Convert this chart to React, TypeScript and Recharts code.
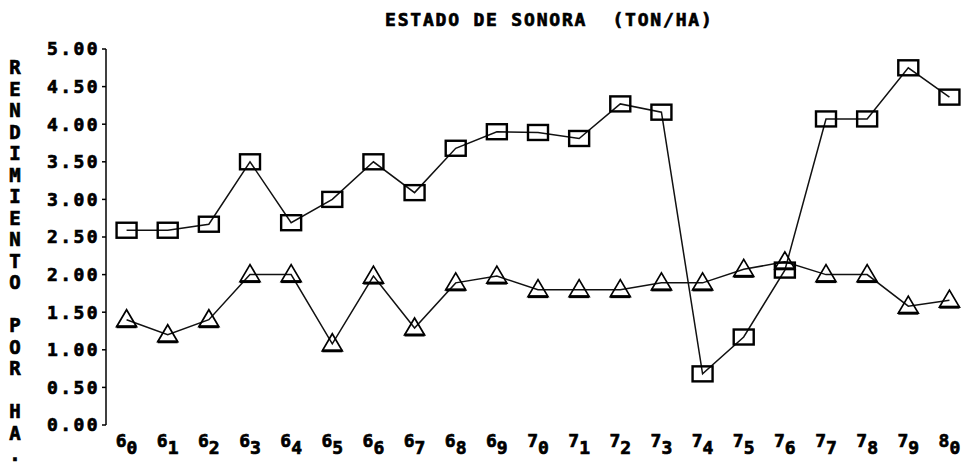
import { LineChart, Line, XAxis, YAxis } from 'recharts';

// años 1960-1980, etiqueta = decena + dígito en subíndice
const years = ['60', '61', '62', '63', '64', '65', '66', '67', '68', '69', '70', '71', '72', '73', '74', '75', '76', '77', '78', '79', '80'];

// serie con cuadros
const serieCuadros = [2.59, 2.59, 2.67, 3.5, 2.69, 3.0, 3.5, 3.09, 3.68, 3.9, 3.89, 3.81, 4.27, 4.16, 0.68, 1.17, 2.06, 4.07, 4.07, 4.75, 4.36];

// serie con triángulos
const serieTriangulos = [1.4, 1.2, 1.4, 2.0, 2.0, 1.08, 1.98, 1.29, 1.89, 1.98, 1.8, 1.8, 1.8, 1.89, 1.89, 2.07, 2.17, 2.0, 2.0, 1.58, 1.66];

const yTicks = [0, 0.5, 1, 1.5, 2, 2.5, 3, 3.5, 4, 4.5, 5];

const yLabel = 'RENDIMIENTO POR HA.';

const data = years.map((y, i) => ({ i, year: y, a: serieCuadros[i], b: serieTriangulos[i] }));
const centerTicks = years.map((_, i) => i);
const boundaryTicks = [...years.map((_, i) => i - 0.5), years.length - 0.5];

const FONT = '"DejaVu Sans Mono", monospace';

const SquareDot = (props: any) => {
  const { cx, cy } = props;
  if (cx == null || cy == null) return null;
  return <rect x={cx - 10} y={cy - 7.5} width={20} height={15} fill="none" stroke="#000" strokeWidth={2.4} />;
};

const TriangleDot = (props: any) => {
  const { cx, cy } = props;
  if (cx == null || cy == null) return null;
  return (
    <g>
      <polygon points={`${cx},${cy - 10} ${cx - 10},${cy + 7} ${cx + 10},${cy + 7}`} fill="none" stroke="#000" strokeWidth={1.7} />
      <line x1={cx - 10} y1={cy + 7} x2={cx + 10} y2={cy + 7} stroke="#000" strokeWidth={3} />
    </g>
  );
};

const YearTick = (props: any) => {
  const { x, y, payload } = props;
  const label = years[payload.value] || '';
  return (
    <text x={x} y={y + 22} textAnchor="middle" fontFamily={FONT} fontWeight="bold" fontSize={18} fill="#000" stroke="#000" strokeWidth={0.7}>
      <tspan>{label[0]}</tspan>
      <tspan dy={7}>{label[1]}</tspan>
    </text>
  );
};

const htmlText = {
  fontFamily: FONT,
  fontWeight: 'bold' as const,
  fontSize: 18,
  color: '#000',
  WebkitTextStroke: '0.7px #000',
};

export default function App() {
  return (
    <div style={{ position: 'absolute', left: 0, top: 0, width: 970, height: 467, background: '#fff' }}>
      <div style={{ ...htmlText, position: 'absolute', left: 385, top: 10, letterSpacing: 1.8, whiteSpace: 'pre', lineHeight: '20px' }}>
        ESTADO DE SONORA  (TON/HA)
      </div>
      <div style={{ position: 'absolute', left: 5, top: 57, width: 20 }}>
        {yLabel.split('').map((c, k) => (
          <div key={k} style={{ ...htmlText, fontSize: 19, height: 21.5, lineHeight: '21.5px', textAlign: 'center' }}>
            {c === ' ' ? '\u00a0' : c}
          </div>
        ))}
      </div>
      <LineChart width={970} height={467} data={data} margin={{ top: 49, right: 0, bottom: 0, left: 0 }}>
        <XAxis
          xAxisId="t"
          type="number"
          dataKey="i"
          domain={[-0.5, years.length - 0.5]}
          ticks={boundaryTicks}
          tick={false}
          height={0}
          axisLine={{ stroke: '#000', strokeWidth: 2.5 }}
          tickLine={{ stroke: '#000', strokeWidth: 1.5 }}
          tickSize={4}
        />
        <XAxis
          xAxisId="lab"
          type="number"
          dataKey="i"
          domain={[-0.5, years.length - 0.5]}
          ticks={centerTicks}
          interval={0}
          height={42}
          axisLine={false}
          tickLine={false}
          tickSize={0}
          tickMargin={0}
          tick={<YearTick />}
        />
        <YAxis
          type="number"
          domain={[0, 5]}
          ticks={yTicks}
          interval={0}
          width={106}
          tickFormatter={(v: number) => v.toFixed(2)}
          axisLine={{ stroke: '#000', strokeWidth: 1.5 }}
          tickLine={{ stroke: '#000', strokeWidth: 1.5 }}
          tickSize={4}
          tickMargin={2}
          tick={{ fill: '#000', stroke: '#000', strokeWidth: 0.7, fontFamily: FONT, fontWeight: 'bold', fontSize: 18, letterSpacing: 2.4 }}
        />
        <Line
          xAxisId="t"
          dataKey="a"
          stroke="#111"
          strokeWidth={1.5}
          dot={<SquareDot />}
          activeDot={false}
          isAnimationActive={false}
        />
        <Line
          xAxisId="t"
          dataKey="b"
          stroke="#111"
          strokeWidth={1.5}
          dot={<TriangleDot />}
          activeDot={false}
          isAnimationActive={false}
        />
      </LineChart>
    </div>
  );
}
